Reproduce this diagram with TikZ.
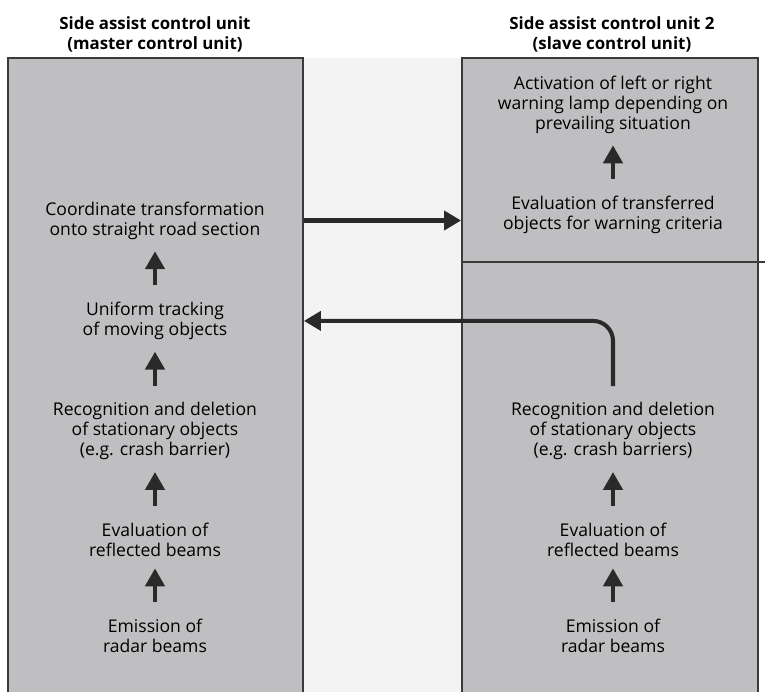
\documentclass[tikz,border=0pt]{standalone}
\usepackage{fontspec}
\setmainfont{Open Sans}
\usetikzlibrary{positioning,arrows.meta}

\definecolor{panelgray}{HTML}{BFBFC1}
\definecolor{gapgray}{HTML}{F4F3F4}
\definecolor{edgegray}{HTML}{3A3A3A}
\definecolor{arrowgray}{HTML}{2A2A2A}

\begin{document}
\begin{tikzpicture}[x=0.02cm,y=-0.02cm,node distance=1.1cm,
	panel/.style={draw=edgegray,fill=panelgray,line width=1.1pt,minimum height=12.84cm,inner sep=0pt},
	task/.style={align=center,font=\fontsize{10}{11.4}\selectfont,inner sep=2pt},
	unit/.style={align=center,font=\bfseries\fontsize{9.6}{11.4}\selectfont,inner sep=0pt},
	up/.style={-{Triangle[length=0.36cm,width=0.38cm]},line width=2.6pt,draw=arrowgray,shorten <=0.26cm,shorten >=0.16cm},
	link/.style={-{Triangle[length=0.34cm,width=0.38cm]},line width=2.3pt,draw=arrowgray}]

	\useasboundingbox (0,0) rectangle (765,691);
	\fill[gapgray] (303,58) rectangle (462,700);
	\node[panel,minimum width=5.9cm] (lpanel) at (155.5,379) {};
	\node[panel,minimum width=5.92cm] (rpanel) at (610,379) {};
	\coordinate (cut) at (765,262);
	\draw[edgegray,line width=0.8pt] (rpanel.west |- cut) -- (cut);

	\node[unit] (ltitle) at (155,34) {Side assist control unit\\(master control unit)};
	\node[unit] (rtitle) at (612,34) {Side assist control unit 2\\(slave control unit)};

	% master unit
	\node[task] (lemit) at (155,636) {Emission of\\radar beams};
	\node[task] (lrefl) [above=of lemit] {Evaluation of\\reflected beams};
	\node[task] (lstat) [above=of lrefl] {Recognition and deletion\\of stationary objects\\(e.g. crash barrier)};
	\node[task] (ltrack) [above=of lstat] {Uniform tracking\\of moving objects};
	\node[task] (lcoord) [above=of ltrack] {Coordinate transformation\\onto straight road section};

	% slave unit
	\node[task] (remit) at (613,636) {Emission of\\radar beams};
	\node[task] (rrefl) [above=of remit] {Evaluation of\\reflected beams};
	\node[task] (rstat) [above=of rrefl] {Recognition and deletion\\of stationary objects\\(e.g. crash barriers)};
	\node[task] (rcheck) at (613,215) {Evaluation of transferred\\objects for warning criteria};
	\node[task] (rlamp) [above=of rcheck] {Activation of left or right\\warning lamp depending on\\prevailing situation};

	\draw[up] (lemit) -- (lrefl);
	\draw[up] (lrefl) -- (lstat);
	\draw[up] (lstat) -- (ltrack);
	\draw[up] (ltrack) -- (lcoord);
	\draw[up] (remit) -- (rrefl);
	\draw[up] (rrefl) -- (rstat);
	\draw[up] (rcheck) -- (rlamp);

	\draw[link] (lcoord -| lpanel.east) -- (lcoord -| rpanel.west);
	\draw[link,rounded corners=0.4cm,shorten <=0.25cm] (rstat.north) |- (lpanel.east |- ltrack);
\end{tikzpicture}
\end{document}
